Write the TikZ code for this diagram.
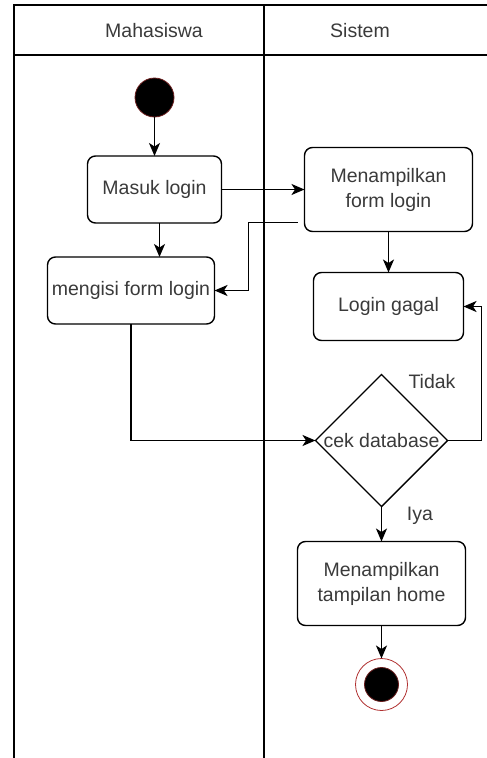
\documentclass[tikz,border=0pt]{standalone}
\usepackage{fontspec}
\setmainfont{Liberation Sans}
\usetikzlibrary{positioning,shapes.geometric,arrows.meta}
\definecolor{txt}{HTML}{3A3A3A}
\definecolor{ring}{HTML}{B03030}
\begin{document}
\begin{tikzpicture}[x=1pt,y=1pt,line width=1.4pt,
  act/.style={draw,rounded corners=8pt,inner sep=0pt,outer sep=0pt,align=center,text=txt,font=\fontsize{19.5}{25}\selectfont},
  dec/.style={draw,diamond,inner sep=0pt,outer sep=0pt,minimum width=132pt,minimum height=132pt,text=txt,font=\fontsize{19.5}{25}\selectfont},
  lbl/.style={text=txt,font=\fontsize{19.5}{25}\selectfont},
  ini/.style={circle,fill=black,draw=ring!60!black,line width=0.8pt,inner sep=0pt,outer sep=0pt,minimum size=39pt},
  fin/.style={circle,fill=white,draw=ring,line width=0.8pt,inner sep=0pt,outer sep=0pt,minimum size=52pt},
  flow/.style={line width=1.7pt,-{Stealth[length=13pt,width=11pt,inset=3.5pt]}}]
                \useasboundingbox (0,0) rectangle (487,-758);
                % lanes
                \draw (14,-758) -- (14,-5) -- (487,-5);
                \draw (14,-55) -- (487,-55);
                \draw (264,-5) -- (264,-758);
                \node[lbl](m) at (154,-31){Mahasiswa};
                \node[lbl](s) at (360,-31){Sistem};
                % activities
                \node[ini](0) at (154.5,-97.5){};
                \node[act,minimum width=134pt,minimum height=67pt](1)[below=39pt of 0]{Masuk login};
                \node[act,minimum width=168pt,minimum height=84pt](2)[right=83pt of 1]{Menampilkan\\form login};
                \node[act,minimum width=167pt,minimum height=67pt](3)[below=34pt of 1,xshift=-23.5pt]{mengisi form login};
                \node[act,minimum width=150pt,minimum height=68pt](4)[below=41pt of 2]{Login gagal};
                \node[dec](5)[below=34pt of 4,xshift=-7pt]{cek database};
                \node[act,minimum width=168pt,minimum height=84pt](6)[below=35pt of 5]{Menampilkan\\tampilan home};
                \node[fin](7)[below=33pt of 6]{};
                \node[circle,fill=black,draw=ring!60!black,line width=0.8pt,minimum size=34pt,inner sep=0pt](7i) at (7){};
                \node[lbl](t) at (432,-382){Tidak};
                \node[lbl](y) at (420,-516){Iya};
                % flows
                \draw[flow](0) -- (1);
                \draw[flow](1) -- (2);
                \draw[flow]([xshift=5pt]1.south) -- ([xshift=5pt]1.south |- 3.north);
                \draw[flow]([shift={(-7pt,9pt)}]2.south west) -- ++(-49,0) |- (3.east);
                \draw[flow](2) -- (4);
                \draw[flow](3.south) |- (5.west);
                \draw[flow](5.east) -- ++(34,0) |- (4.east);
                \draw[flow](5) -- (6);
                \draw[flow](6) -- (7);
            \end{tikzpicture}
\end{document}
